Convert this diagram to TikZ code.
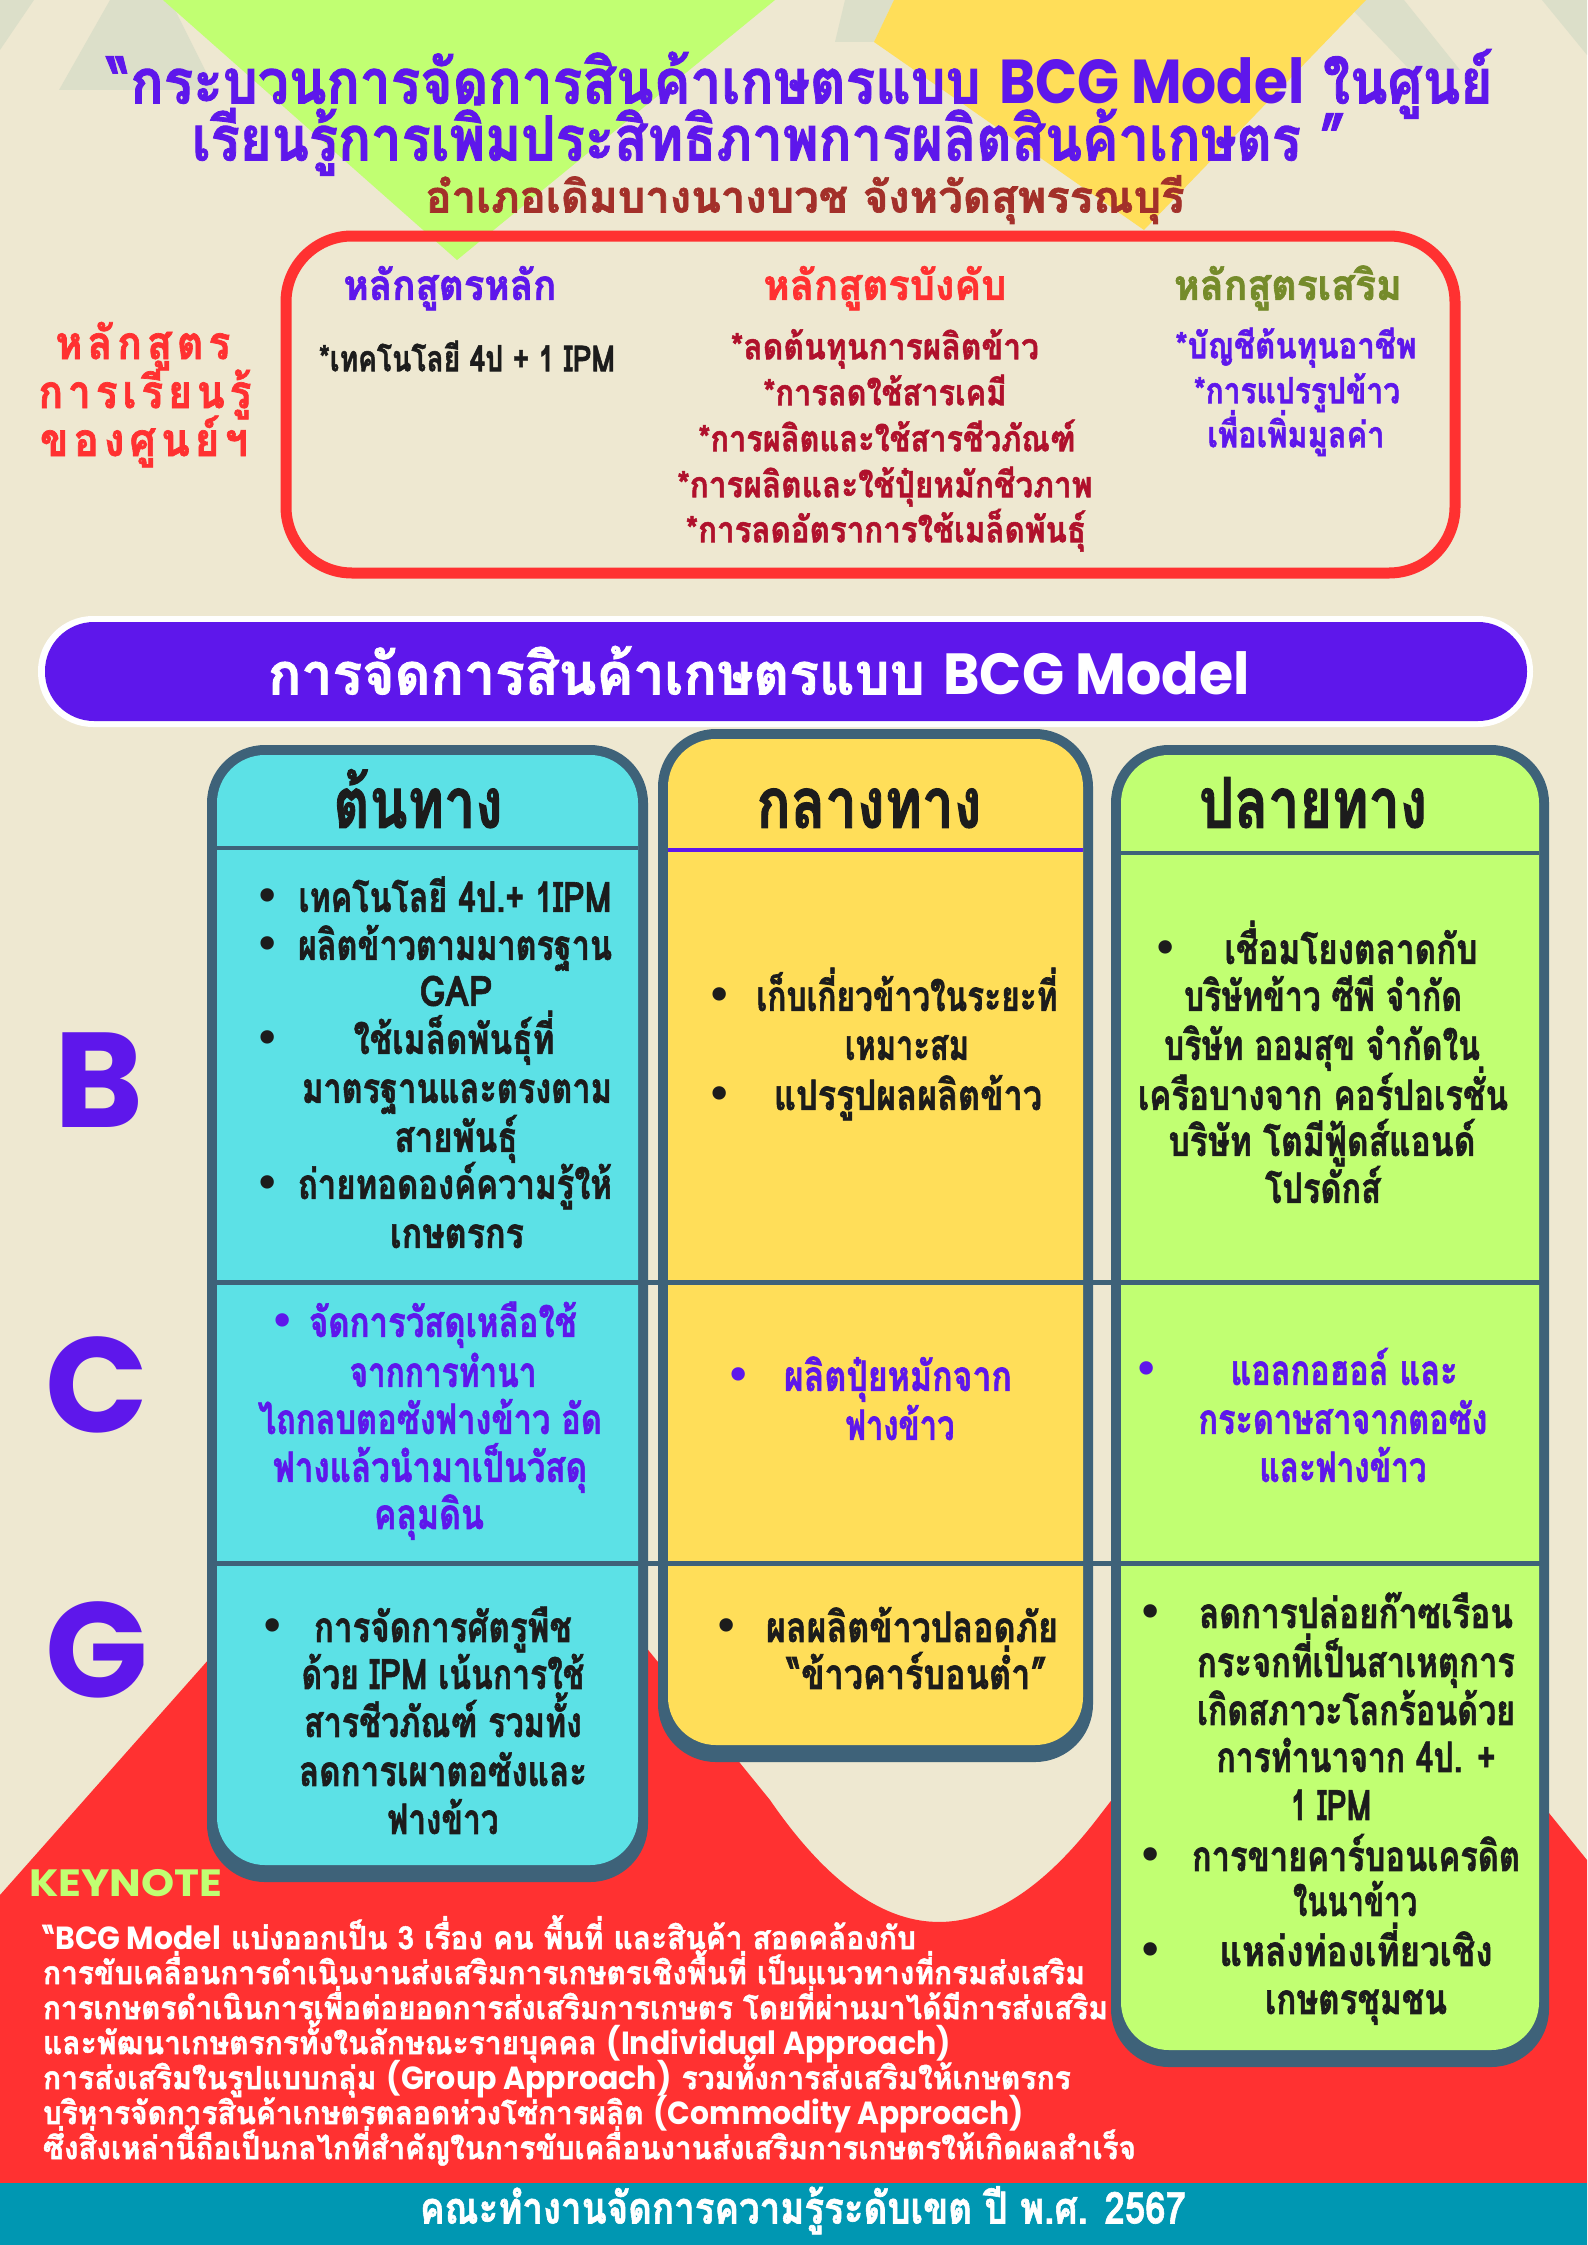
\documentclass[tikz,border=0pt]{standalone}
\usepackage{fontspec}
\usepackage{graphicx}
\newfontfamily\thf{Loma}[Script=Thai,BoldFeatures={FakeBold=1.5}]
\newfontfamily\pop{Poppins}
\newfontfamily\dv{DejaVu Sans}
\definecolor{cream}{HTML}{EEE8D1}
\definecolor{faint}{HTML}{DCDFC9}
\definecolor{lime}{HTML}{C1FF72}
\definecolor{sun}{HTML}{FFDE59}
\definecolor{pur}{HTML}{5E17EB}
\definecolor{rd}{HTML}{FF3131}
\definecolor{cy}{HTML}{5CE1E6}
\definecolor{slate}{HTML}{3E6279}
\definecolor{teal}{HTML}{0097B2}
\definecolor{olive}{HTML}{758B2A}
\definecolor{crim}{HTML}{B0112C}
\definecolor{brn}{HTML}{A3302A}
\definecolor{ink}{HTML}{1C1C1C}
\newcommand\fs[1]{\fontsize{#1pt}{#1pt}\selectfont}
\newsavebox\fitbox
\newcommand\fitw[2]{\sbox\fitbox{#2}\edef\fitcur{\the\wd\fitbox}\scalebox{\fpeval{(#1)/(\fitcur)}}[1]{\usebox\fitbox}}
\newcounter{tn}
% \T[extra font]{x}{y}{width}{colour}{size}{text}
\newcommand\T[7][]{\stepcounter{tn}\node[t,text=#5,font=\thf\bfseries\fs{#6}#1,yshift=-0.28*#6pt] (t\arabic{tn}) at (#2,#3) {\fitw{#4}{#7}};}
\newcommand\TL[7][]{\stepcounter{tn}\node[tl,text=#5,font=\thf\bfseries\fs{#6}#1,yshift=-0.28*#6pt] (t\arabic{tn}) at (#2,#3) {\fitw{#4}{#7}};}
\newcommand\Bu[3]{\stepcounter{tn}\node[t,text=#3,font=\dv\bfseries\fs{38},yshift=-9pt] (t\arabic{tn}) at (#1,#2) {•};}
\newcommand\colbox[5]{\fill[slate,rounded corners=58pt] (#1,#2) rectangle (#3,#4);
  \fill[#5,rounded corners=48pt] (#1+10,#2+10) rectangle (#3-10,#4-17);}
\def\pf{\pop\bfseries}
\begin{document}
\begin{tikzpicture}[x=1pt,y=-1pt,
  t/.style={inner sep=0pt,outer sep=0pt,anchor=mid},
  tl/.style={inner sep=0pt,outer sep=0pt,anchor=mid west}]
\useasboundingbox (0,0) rectangle (1587,2245);
% background
\fill[cream] (0,0) rectangle (1587,2245);
\fill[faint] (0,0) -- (34,0) -- (0,50) -- cycle;
\fill[faint] (110,0) -- (170,0) -- (215,90) -- (59,90) -- cycle;
\fill[faint] (845,0) -- (894,0) -- (874,42) -- (835,42) -- cycle;
\fill[faint] (1343,0) -- (1404,0) -- (1460,70) -- (1410,70) -- cycle;
\fill[faint] (1542,0) -- (1587,0) -- (1587,55) -- cycle;
\fill[lime] (163,0) -- (775,0) -- (457,260) -- cycle;
\fill[sun] (894,0) -- (1366,0) -- (1144,230) -- (874,42) -- cycle;
\fill[rd] (0,1895) -- (442,1396) -- (770,1800) .. controls (880,1960) and (990,1960) .. (1100,1815) -- (1320,1530) -- (1587,1860) -- (1587,2245) -- (0,2245) -- cycle;
\fill[teal] (0,2183) rectangle (1587,2245);
% title
\T{800}{84}{1385}{pur}{62}{“กระบวนการจัดการสินค้าเกษตรแบบ {\pf BCG Model} ในศูนย์}
\T{769}{141}{1154}{pur}{62}{เรียนรู้การเพิ่มประสิทธิภาพการผลิตสินค้าเกษตร ”}
\T{805}{198}{759}{brn}{44}{อำเภอเดิมบางนางบวช จังหวัดสุพรรณบุรี}
% curriculum box
\draw[rd,line width=11pt,rounded corners=66pt] (286,236) rectangle (1455,573);
\T[\addfontfeatures{LetterSpace=12}]{143}{344}{175}{rd}{46}{หลักสูตร}
\T[\addfontfeatures{LetterSpace=12}]{145}{393}{213}{rd}{46}{การเรียนรู้}
\T[\addfontfeatures{LetterSpace=12}]{144}{441}{208}{rd}{46}{ของศูนย์ฯ}
\T{450}{286}{213}{pur}{42}{หลักสูตรหลัก}
\T{885}{286}{243}{rd}{42}{หลักสูตรบังคับ}
\T{1288}{286}{228}{olive}{42}{หลักสูตรเสริม}
\T{467}{359}{296}{ink}{36}{*เทคโนโลยี 4ป + 1 IPM}
\T{885}{347}{308}{crim}{36}{*ลดต้นทุนการผลิตข้าว}
\T{885}{393}{243}{crim}{36}{*การลดใช้สารเคมี}
\T{887}{439}{377}{crim}{36}{*การผลิตและใช้สารชีวภัณฑ์}
\T{885}{485}{415}{crim}{36}{*การผลิตและใช้ปุ๋ยหมักชีวภาพ}
\T{886}{530}{400}{crim}{36}{*การลดอัตราการใช้เมล็ดพันธุ์}
\T{1296}{346}{241}{pur}{36}{*บัญชีต้นทุนอาชีพ}
\T{1297}{391}{206}{pur}{36}{*การแปรรูปข้าว}
\T{1296}{435}{177}{pur}{36}{เพื่อเพิ่มมูลค่า}
% banner
\fill[white,rounded corners=55pt] (38,616) rectangle (1533,727);
\fill[pur,rounded corners=49pt] (45,622) rectangle (1527,721);
\T{759}{676}{982}{white}{58}{การจัดการสินค้าเกษตรแบบ {\pf BCG Model}}
% columns
\colbox{207}{745}{648}{1882}{cy}
\colbox{658}{729}{1093}{1762}{sun}
\colbox{1111}{745}{1549}{2067}{lime}
\draw[slate,line width=4.5pt] (217,848) -- (638,848);
\draw[pur,line width=4pt] (668,850) -- (1083,850);
\draw[slate,line width=4pt] (1121,853) -- (1539,853);
\draw[slate,line width=5pt] (207,1282) -- (1549,1282);
\draw[slate,line width=5pt] (207,1563) -- (1549,1563);
\T{418}{806}{169}{ink}{70}{ต้นทาง}
\T{869}{806}{225}{ink}{70}{กลางทาง}
\T{1313}{806}{228}{ink}{70}{ปลายทาง}
% row labels
\node[text=pur,font=\pf\fs{135},inner sep=0pt,anchor=center] (lb) at (99,1080) {B};
\node[text=pur,font=\pf\fs{135},inner sep=0pt,anchor=center] (lc) at (97,1385) {C};
\node[text=pur,font=\pf\fs{135},inner sep=0pt,anchor=center] (lg) at (97,1650) {G};
% B row
\Bu{268}{898}{ink}\T{455}{898}{313}{ink}{42}{เทคโนโลยี 4ป.+ 1IPM}
\Bu{268}{946}{ink}\T{455}{946}{314}{ink}{42}{ผลิตข้าวตามมาตรฐาน}
\T{456}{992}{73}{ink}{42}{GAP}
\Bu{268}{1040}{ink}\T{454}{1040}{201}{ink}{42}{ใช้เมล็ดพันธุ์ที่}
\T{457}{1089}{310}{ink}{42}{มาตรฐานและตรงตาม}
\T{456}{1138}{123}{ink}{42}{สายพันธุ์}
\Bu{268}{1185}{ink}\T{455}{1185}{314}{ink}{42}{ถ่ายทอดองค์ความรู้ให้}
\T{457}{1234}{134}{ink}{42}{เกษตรกร}
\Bu{720}{997}{ink}\T{907}{997}{301}{ink}{42}{เก็บเกี่ยวข้าวในระยะที่}
\T{907}{1046}{124}{ink}{42}{เหมาะสม}
\Bu{720}{1096}{ink}\T{908}{1096}{268}{ink}{42}{แปรรูปผลผลิตข้าว}
\Bu{1166}{950}{ink}\T{1351}{950}{253}{ink}{42}{เชื่อมโยงตลาดกับ}
\T{1323}{997}{278}{ink}{42}{บริษัทข้าว ซีพี จำกัด}
\T{1322}{1046}{316}{ink}{42}{บริษัท ออมสุข จำกัดใน}
\T{1323}{1096}{370}{ink}{42}{เครือบางจาก คอร์ปอเรชั่น}
\T{1322}{1142}{307}{ink}{42}{บริษัท โตมีฟู้ดส์แอนด์}
\T{1323}{1189}{116}{ink}{42}{โปรดักส์}
% C row
\Bu{283}{1323}{pur}\T{443}{1323}{268}{pur}{42}{จัดการวัสดุเหลือใช้}
\T{443}{1373}{187}{pur}{42}{จากการทำนา}
\T{430}{1420}{344}{pur}{42}{ไถกลบตอซังฟางข้าว อัด}
\T{430}{1468}{314}{pur}{42}{ฟางแล้วนำมาเป็นวัสดุ}
\T{429}{1515}{110}{pur}{42}{คลุมดิน}
\Bu{739}{1377}{pur}\T{898}{1377}{228}{pur}{42}{ผลิตปุ๋ยหมักจาก}
\T{900}{1426}{109}{pur}{42}{ฟางข้าว}
\Bu{1147}{1371}{pur}\T{1344}{1371}{227}{pur}{42}{แอลกอฮอล์ และ}
\T{1343}{1420}{289}{pur}{42}{กระดาษสาจากตอซัง}
\T{1343}{1468}{167}{pur}{42}{และฟางข้าว}
% G row
\Bu{273}{1628}{ink}\T{443}{1628}{258}{ink}{42}{การจัดการศัตรูพืช}
\T{443}{1675}{283}{ink}{42}{ด้วย IPM เน้นการใช้}
\T{443}{1723}{278}{ink}{42}{สารชีวภัณฑ์ รวมทั้ง}
\T{443}{1772}{288}{ink}{42}{ลดการเผาตอซังและ}
\T{443}{1820}{111}{ink}{42}{ฟางข้าว}
\Bu{727}{1628}{ink}\T{912}{1628}{292}{ink}{42}{ผลผลิตข้าวปลอดภัย}
\T{917}{1675}{260}{ink}{42}{“ข้าวคาร์บอนต่ำ”}
\Bu{1151}{1614}{ink}\T{1356}{1614}{314}{ink}{42}{ลดการปล่อยก๊าซเรือน}
\T{1356}{1663}{318}{ink}{42}{กระจกที่เป็นสาเหตุการ}
\T{1356}{1711}{318}{ink}{42}{เกิดสภาวะโลกร้อนด้วย}
\T{1356}{1758}{279}{ink}{42}{การทำนาจาก 4ป. +}
\T{1331}{1806}{81}{ink}{42}{1 IPM}
\Bu{1151}{1857}{ink}\T{1356}{1857}{328}{ink}{42}{การขายคาร์บอนเครดิต}
\T{1355}{1902}{124}{ink}{42}{ในนาข้าว}
\Bu{1151}{1952}{ink}\T{1356}{1952}{273}{ink}{42}{แหล่งท่องเที่ยวเชิง}
\T{1356}{2000}{182}{ink}{42}{เกษตรชุมชน}
% keynote
\stepcounter{tn}\node[inner sep=0pt,anchor=west,text=lime,font=\pf\fs{38}] (key) at (29,1883) {\fitw{193}{KEYNOTE}};
\TL{43}{1938}{873}{white}{32}{“{\pf BCG Model} แบ่งออกเป็น 3 เรื่อง คน พื้นที่ และสินค้า สอดคล้องกับ}
\TL{43}{1973}{1042}{white}{32}{การขับเคลื่อนการดำเนินงานส่งเสริมการเกษตรเชิงพื้นที่ เป็นแนวทางที่กรมส่งเสริม}
\TL{43}{2008}{1065}{white}{32}{การเกษตรดำเนินการเพื่อต่อยอดการส่งเสริมการเกษตร โดยที่ผ่านมาได้มีการส่งเสริม}
\TL{43}{2043}{908}{white}{32}{และพัฒนาเกษตรกรทั้งในลักษณะรายบุคคล {\pf (Individual Approach)}}
\TL{43}{2078}{1028}{white}{32}{การส่งเสริมในรูปแบบกลุ่ม {\pf (Group Approach)} รวมทั้งการส่งเสริมให้เกษตรกร}
\TL{43}{2113}{981}{white}{32}{บริหารจัดการสินค้าเกษตรตลอดห่วงโซ่การผลิต {\pf (Commodity Approach)}}
\TL{43}{2148}{1093}{white}{32}{ซึ่งสิ่งเหล่านี้ถือเป็นกลไกที่สำคัญในการขับเคลื่อนงานส่งเสริมการเกษตรให้เกิดผลสำเร็จ}
% footer
\T{803}{2209}{766}{white}{44}{คณะทำงานจัดการความรู้ระดับเขต ปี พ.ศ. 2567}
\end{tikzpicture}
\end{document}
